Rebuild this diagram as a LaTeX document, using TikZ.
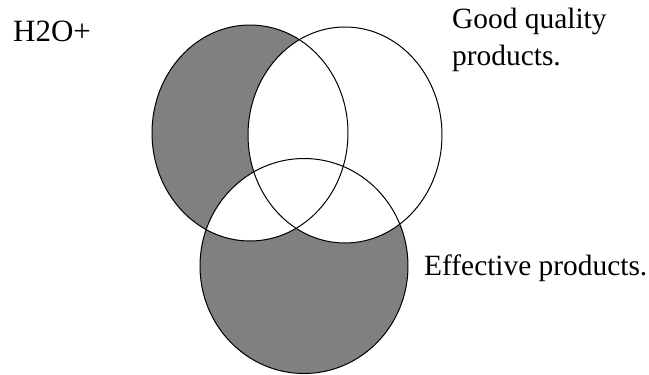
\documentclass[tikz,border=0pt]{standalone}
\usepackage{fontspec}
\setmainfont{Liberation Serif}
\usepackage{tikz}
\usetikzlibrary{positioning}
\definecolor{venngray}{RGB}{128,128,128}

\begin{document}
\begin{tikzpicture}[
    x=1pt, y=-1pt,
    outline/.style={draw=black, line width=1pt},
    label/.style={anchor=base west, inner sep=0pt,
                  font=\fontsize{29.4}{36.7}\selectfont}
]
    \useasboundingbox (0,0) rectangle (649,375);

    % set centres
    \coordinate (left) at (250,133);
    \coordinate (right) at (345,135);
    \coordinate (bottom) at (304,266);

    % shaded parts: left xor bottom, minus right
    \fill[venngray, even odd rule]
        (left) ellipse [x radius=98pt, y radius=108pt]
        (bottom) ellipse [x radius=104pt, y radius=107.5pt];
    \fill[white] (right) ellipse [x radius=97pt, y radius=108pt];

    \draw[outline] (left) ellipse [x radius=98pt, y radius=108pt];
    \draw[outline] (right) ellipse [x radius=97pt, y radius=108pt];
    \draw[outline] (bottom) ellipse [x radius=104pt, y radius=107.5pt];

    \node[label, font=\fontsize{31}{36}\selectfont] (brand) at (13,41.5) {H2O+};
    \node[label] (quality) at (452,28.3) {Good quality};
    \node[label] (products) at (452,65) {products.};
    \node[label] (effective) at (424,275) {Effective products.};
\end{tikzpicture}
\end{document}
